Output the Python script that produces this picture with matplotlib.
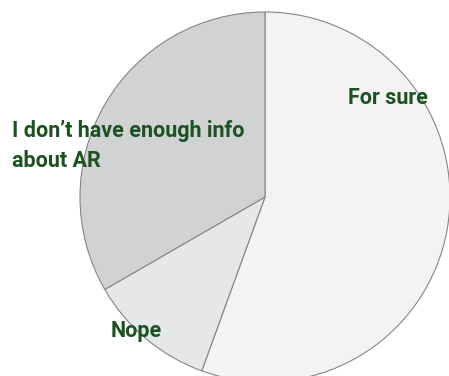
import matplotlib.pyplot as plt

labels = ["For sure", "Nope", "I don\u2019t have enough info\nabout AR"]
shares = [5, 1, 3]
colors = ["#f3f3f3", "#e6e7e9", "#d1d2d4"]

# label anchor (left, baseline of last line) in pixel coords
label_pos = [(348, 104), (111, 337), (12, 167)]

W, H = 449, 376
fig = plt.figure(figsize=(W / 100, H / 100), dpi=100)
ax = fig.add_axes([0, 0, 1, 1])

ax.pie(shares, colors=colors, startangle=90, counterclock=False,
       center=(265, H - 197), radius=185, frame=True,
       wedgeprops=dict(edgecolor="#858585", linewidth=0.8))
ax.set_xlim(0, W)
ax.set_ylim(0, H)
ax.set_aspect("equal")
ax.axis("off")

for text, (x, y) in zip(labels, label_pos):
    ax.text(x, H - y, text, ha="left", va="baseline", fontsize=15.5,
            fontweight="bold", family="Roboto", color="#1b5220",
            linespacing=1.5)

fig.savefig("out.png", dpi=100)
